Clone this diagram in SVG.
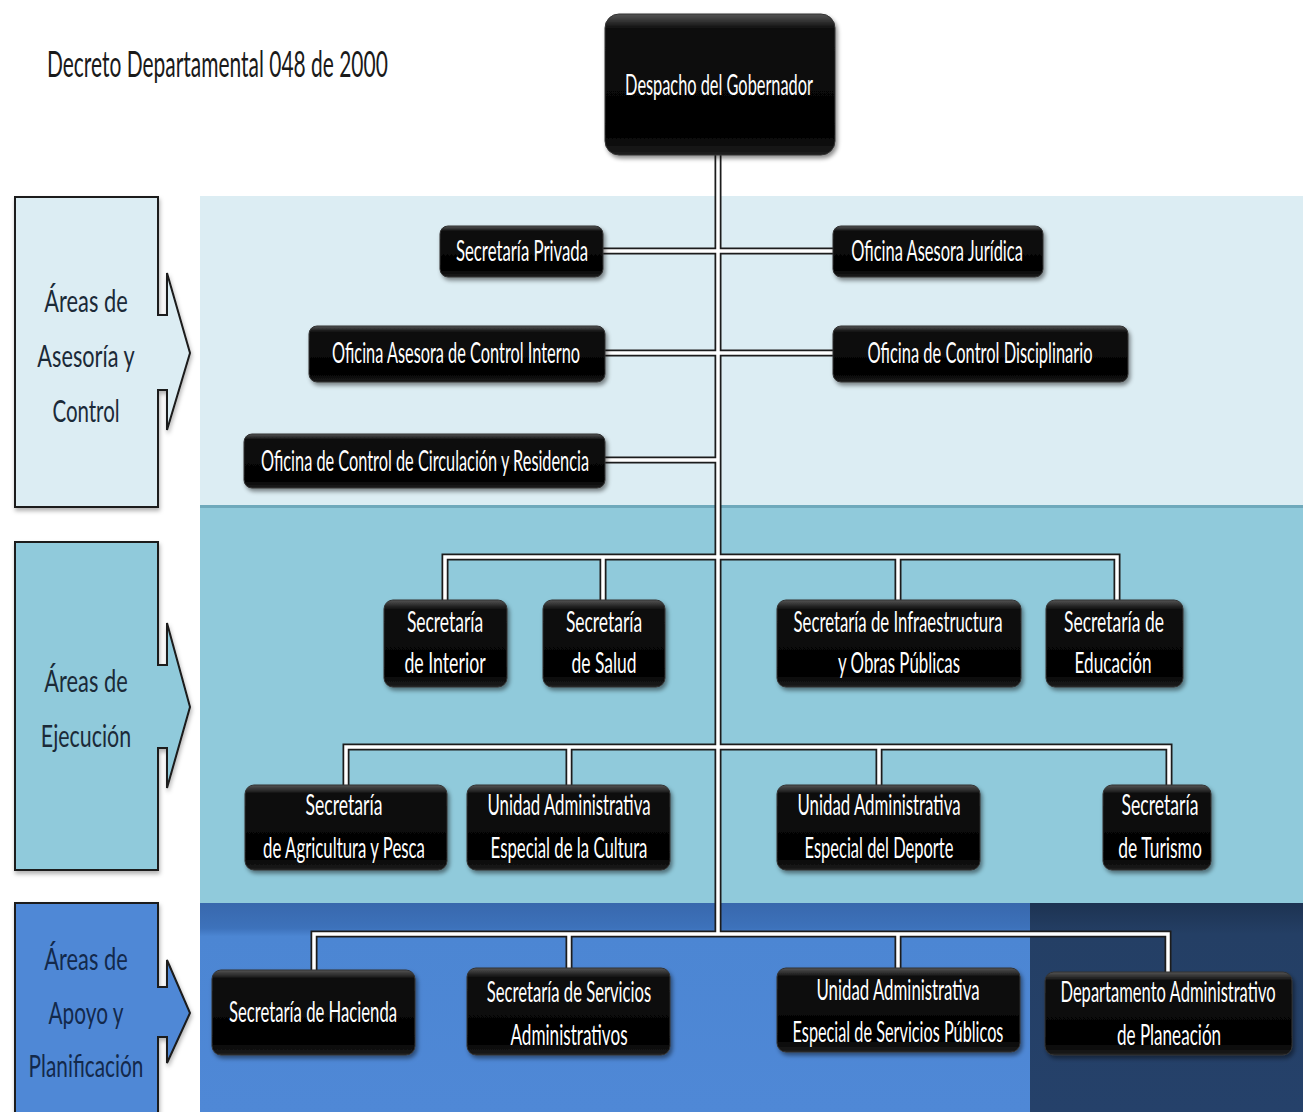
<svg xmlns="http://www.w3.org/2000/svg" width="1303" height="1112" viewBox="0 0 1303 1112">
<style>
.t{font-family:Lato,"Liberation Sans",sans-serif;fill:#ffffff;font-size:28px;text-anchor:middle}
.lbl{font-family:Lato,"Liberation Sans",sans-serif;fill:#1b2a38;font-size:31px;text-anchor:middle}
.lbl3{fill:#13294b}
.node{fill:url(#ng);stroke:#333;stroke-width:1;filter:url(#sh)}
.box{stroke:#1a1a1a;stroke-width:2;filter:url(#sh2)}
.cOut{fill:none;stroke:#1c1c1c;stroke-width:7}
.cIn{fill:none;stroke:#ffffff;stroke-width:3.5}
</style>
<defs>
<linearGradient id="ng" x1="0" y1="0" x2="0" y2="1">
<stop offset="0" stop-color="#555"/>
<stop offset="0.1" stop-color="#111"/>
<stop offset="0.85" stop-color="#000"/>
<stop offset="1" stop-color="#1e1e1e"/>
</linearGradient>
<linearGradient id="bg3" x1="0" y1="0" x2="0" y2="1">
<stop offset="0" stop-color="#3868ad"/>
<stop offset="0.12" stop-color="#3d72bb"/>
<stop offset="0.16" stop-color="#4c86d3"/>
<stop offset="1" stop-color="#4f88d6"/>
</linearGradient>
<linearGradient id="bg4" x1="0" y1="0" x2="0" y2="1">
<stop offset="0" stop-color="#1d3352"/>
<stop offset="0.15" stop-color="#243f65"/>
<stop offset="1" stop-color="#25416a"/>
</linearGradient>
<filter id="sh" x="-10%" y="-20%" width="120%" height="150%">
<feDropShadow dx="2" dy="3" stdDeviation="2" flood-color="#000" flood-opacity="0.45"/>
</filter>
<filter id="sh2" x="-10%" y="-10%" width="120%" height="120%">
<feDropShadow dx="1" dy="3" stdDeviation="2" flood-color="#000" flood-opacity="0.3"/>
</filter>
<path id="conn" d="M718,155 V935 M603,251 H833 M605,353 H833 M605,460 H718 M445,600 V557 H1117 V600 M603,557 V600 M898,557 V600 M346,785 V747 H1169 V785 M569,747 V785 M879,747 V785 M314,970 V934 H1168 V972 M569,934 V968 M898,934 V968"/>
</defs>
<rect width="1303" height="1112" fill="#ffffff"/>

<g id="panels">
<rect x="200" y="196" width="1103" height="311" fill="#dcedf3"/>
<rect x="200" y="505" width="1103" height="3" fill="#6fa9bb"/>
<rect x="200" y="508" width="1103" height="395" fill="#90cadb"/>
<rect x="200" y="903" width="830" height="209" fill="url(#bg3)"/>
<rect x="1030" y="903" width="273" height="209" fill="url(#bg4)"/>
</g>

<text transform="translate(47,77) scale(0.6,1)" font-family="Lato,'Liberation Sans',sans-serif" font-size="36" fill="#1a1a1a" textLength="568" lengthAdjust="spacingAndGlyphs">Decreto Departamental 048 de 2000</text>

<g id="area-asesoria">
<path class="box" fill="#dcedf3" d="M15,197 H158 V315 H167 V273 L190,353 L167,430 V390 H158 V507 H15 Z"/>
<text class="lbl" transform="translate(86,312) scale(0.7,1)" textLength="119" lengthAdjust="spacingAndGlyphs">Áreas de</text>
<text class="lbl" transform="translate(86,367) scale(0.7,1)" textLength="139" lengthAdjust="spacingAndGlyphs">Asesoría y</text>
<text class="lbl" transform="translate(86,422) scale(0.7,1)" textLength="96" lengthAdjust="spacingAndGlyphs">Control</text>
</g>
<g id="area-ejecucion">
<path class="box" fill="#90cadb" d="M15,542 H158 V665 H167 V623 L190,707 L167,788 V748 H158 V870 H15 Z"/>
<text class="lbl" transform="translate(86,692) scale(0.7,1)" textLength="119" lengthAdjust="spacingAndGlyphs">Áreas de</text>
<text class="lbl" transform="translate(86,747) scale(0.7,1)" textLength="129" lengthAdjust="spacingAndGlyphs">Ejecución</text>
</g>
<g id="area-apoyo">
<path class="box" fill="#4f88d6" d="M15,903 H158 V987 H167 V960 L190,1013 L167,1063 V1037 H158 V1120 H15 Z"/>
<text class="lbl lbl3" transform="translate(86,970) scale(0.7,1)" textLength="119" lengthAdjust="spacingAndGlyphs">Áreas de</text>
<text class="lbl lbl3" transform="translate(86,1024) scale(0.7,1)" textLength="107" lengthAdjust="spacingAndGlyphs">Apoyo y</text>
<text class="lbl lbl3" transform="translate(86,1077) scale(0.7,1)" textLength="164" lengthAdjust="spacingAndGlyphs">Planificación</text>
</g>

<g id="connectors">
<use href="#conn" class="cOut"/>
<use href="#conn" class="cIn"/>
</g>

<g id="n-despacho"><rect class="node" x="605" y="14" width="230" height="141" rx="14"/>
<text class="t" transform="translate(719,95) scale(0.62,1)" font-size="29" textLength="303" lengthAdjust="spacingAndGlyphs">Despacho del Gobernador</text></g>

<g id="n-privada"><rect class="node" x="440" y="226" width="163" height="51" rx="8"/>
<text class="t" transform="translate(522,261) scale(0.62,1)" textLength="213" lengthAdjust="spacingAndGlyphs">Secretaría Privada</text></g>

<g id="n-juridica"><rect class="node" x="833" y="226" width="210" height="51" rx="8"/>
<text class="t" transform="translate(937,261) scale(0.62,1)" textLength="277" lengthAdjust="spacingAndGlyphs">Oficina Asesora Jurídica</text></g>

<g id="n-control-interno"><rect class="node" x="309" y="326" width="296" height="56" rx="8"/>
<text class="t" transform="translate(456,363) scale(0.62,1)" textLength="400" lengthAdjust="spacingAndGlyphs">Oficina Asesora de Control Interno</text></g>

<g id="n-disciplinario"><rect class="node" x="833" y="326" width="295" height="56" rx="8"/>
<text class="t" transform="translate(980,363) scale(0.62,1)" textLength="363" lengthAdjust="spacingAndGlyphs">Oficina de Control Disciplinario</text></g>

<g id="n-circulacion"><rect class="node" x="244" y="434" width="361" height="54" rx="8"/>
<text class="t" transform="translate(425,471) scale(0.62,1)" textLength="529" lengthAdjust="spacingAndGlyphs">Oficina de Control de Circulación y Residencia</text></g>

<g id="n-interior"><rect class="node" x="384" y="600" width="123" height="87" rx="9"/>
<text class="t" transform="translate(445,632) scale(0.62,1)" textLength="123" lengthAdjust="spacingAndGlyphs">Secretaría</text>
<text class="t" transform="translate(445,673) scale(0.62,1)" textLength="131" lengthAdjust="spacingAndGlyphs">de Interior</text></g>

<g id="n-salud"><rect class="node" x="543" y="600" width="122" height="87" rx="9"/>
<text class="t" transform="translate(604,632) scale(0.62,1)" textLength="123" lengthAdjust="spacingAndGlyphs">Secretaría</text>
<text class="t" transform="translate(604,673) scale(0.62,1)" textLength="105" lengthAdjust="spacingAndGlyphs">de Salud</text></g>

<g id="n-infraestructura"><rect class="node" x="777" y="600" width="244" height="87" rx="9"/>
<text class="t" transform="translate(898,632) scale(0.62,1)" textLength="337" lengthAdjust="spacingAndGlyphs">Secretaría de Infraestructura</text>
<text class="t" transform="translate(899,673) scale(0.62,1)" textLength="197" lengthAdjust="spacingAndGlyphs">y Obras Públicas</text></g>

<g id="n-educacion"><rect class="node" x="1046" y="600" width="137" height="87" rx="9"/>
<text class="t" transform="translate(1114,632) scale(0.62,1)" textLength="161" lengthAdjust="spacingAndGlyphs">Secretaría de</text>
<text class="t" transform="translate(1113,673) scale(0.62,1)" textLength="124" lengthAdjust="spacingAndGlyphs">Educación</text></g>

<g id="n-agricultura"><rect class="node" x="245" y="785" width="202" height="85" rx="9"/>
<text class="t" transform="translate(344,815) scale(0.62,1)" textLength="124" lengthAdjust="spacingAndGlyphs">Secretaría</text>
<text class="t" transform="translate(344,858) scale(0.62,1)" textLength="261" lengthAdjust="spacingAndGlyphs">de Agricultura y Pesca</text></g>

<g id="n-cultura"><rect class="node" x="467" y="785" width="203" height="85" rx="9"/>
<text class="t" transform="translate(569,815) scale(0.62,1)" textLength="263" lengthAdjust="spacingAndGlyphs">Unidad Administrativa</text>
<text class="t" transform="translate(569,858) scale(0.62,1)" textLength="253" lengthAdjust="spacingAndGlyphs">Especial de la Cultura</text></g>

<g id="n-deporte"><rect class="node" x="777" y="785" width="203" height="85" rx="9"/>
<text class="t" transform="translate(879,815) scale(0.62,1)" textLength="263" lengthAdjust="spacingAndGlyphs">Unidad Administrativa</text>
<text class="t" transform="translate(879,858) scale(0.62,1)" textLength="240" lengthAdjust="spacingAndGlyphs">Especial del Deporte</text></g>

<g id="n-turismo"><rect class="node" x="1103" y="785" width="108" height="85" rx="9"/>
<text class="t" transform="translate(1160,815) scale(0.62,1)" textLength="124" lengthAdjust="spacingAndGlyphs">Secretaría</text>
<text class="t" transform="translate(1160,858) scale(0.62,1)" textLength="135" lengthAdjust="spacingAndGlyphs">de Turismo</text></g>

<g id="n-hacienda"><rect class="node" x="212" y="970" width="203" height="85" rx="9"/>
<text class="t" transform="translate(313,1022) scale(0.62,1)" textLength="271" lengthAdjust="spacingAndGlyphs">Secretaría de Hacienda</text></g>

<g id="n-servicios-adm"><rect class="node" x="467" y="968" width="203" height="87" rx="9"/>
<text class="t" transform="translate(569,1002) scale(0.62,1)" textLength="265" lengthAdjust="spacingAndGlyphs">Secretaría de Servicios</text>
<text class="t" transform="translate(569,1045) scale(0.62,1)" textLength="189" lengthAdjust="spacingAndGlyphs">Administrativos</text></g>

<g id="n-servicios-pub"><rect class="node" x="777" y="968" width="243" height="84" rx="9"/>
<text class="t" transform="translate(898,1000) scale(0.62,1)" textLength="263" lengthAdjust="spacingAndGlyphs">Unidad Administrativa</text>
<text class="t" transform="translate(898,1042) scale(0.62,1)" textLength="340" lengthAdjust="spacingAndGlyphs">Especial de Servicios Públicos</text></g>

<g id="n-planeacion"><rect class="node" x="1045" y="972" width="247" height="83" rx="9"/>
<text class="t" transform="translate(1168,1002) scale(0.62,1)" textLength="347" lengthAdjust="spacingAndGlyphs">Departamento Administrativo</text>
<text class="t" transform="translate(1169,1045) scale(0.62,1)" textLength="168" lengthAdjust="spacingAndGlyphs">de Planeación</text></g>
</svg>
